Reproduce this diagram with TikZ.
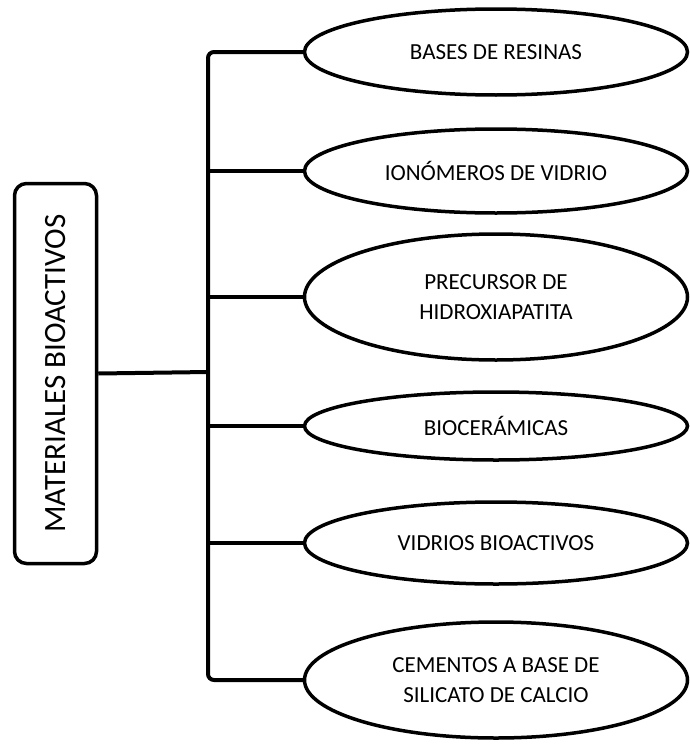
\documentclass[tikz,border=0pt]{standalone}
\usepackage{fontspec}
\setmainfont{Carlito}
\usetikzlibrary{shapes.geometric}
\tikzset{
  clase/.style={draw, ellipse, line width=3.5pt, minimum width=383pt, inner sep=0pt,
    align=center, font=\fontsize{23}{30}\selectfont},
  raizbox/.style={draw, rounded corners=12pt, line width=3.5pt, rotate=90,
    minimum width=380pt, minimum height=82pt, font=\fontsize{31}{36}\selectfont},
  conn/.style={line width=4pt}
}
\begin{document}
\begin{tikzpicture}[x=1pt, y=-1pt]
  \useasboundingbox (0,0) rectangle (690,744);
  % root box
  \node[raizbox] (raiz) at (55.5,373.5) {MATERIALES BIOACTIVOS};
  % classes
  \node[clase, minimum height=86pt] (resinas) at (496,52) {BASES DE RESINAS};
  \node[clase, minimum height=84pt] (ionomero) at (496,171) {IONÓMEROS DE VIDRIO};
  \node[clase, minimum height=126pt] (precursor) at (496,297) {PRECURSOR DE\\HIDROXIAPATITA};
  \node[clase, minimum height=68pt] (biocer) at (496,426) {BIOCERÁMICAS};
  \node[clase, minimum height=82pt] (vidrio) at (496,543) {VIDRIOS BIOACTIVOS};
  \node[clase, minimum height=116pt] (cemento) at (496,680) {CEMENTOS A BASE DE\\SILICATO DE CALCIO};
  % connectors
  \coordinate (bar) at (208,372);
  \draw[conn] (raiz.south) -- (bar);
  \draw[conn, rounded corners=6pt] (resinas.west) -- (resinas.west -| bar)
    -- (cemento.west -| bar) -- (cemento.west);
  \foreach \n in {ionomero, precursor, biocer, vidrio}
    \draw[conn] (\n.west -| bar) -- (\n.west);
\end{tikzpicture}
\end{document}
